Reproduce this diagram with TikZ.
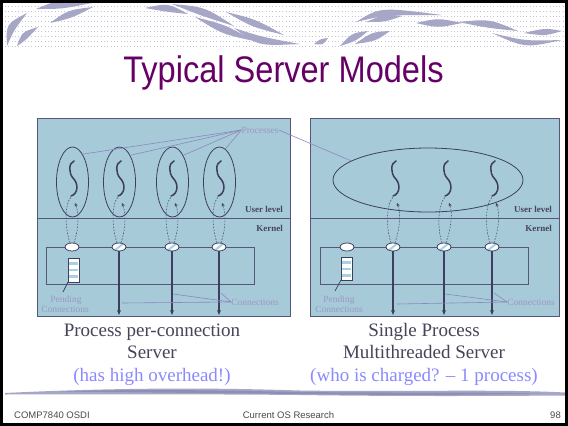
\documentclass[tikz,border=0pt]{standalone}
\usepackage{fontspec}
\setmainfont{Liberation Serif}
\newfontfamily\sansf{Liberation Sans}
\usetikzlibrary{shapes.geometric,arrows.meta}
\definecolor{panelfill}{HTML}{A7CAD8}
\definecolor{panelline}{HTML}{56567C}
\definecolor{threadcol}{HTML}{3E3E60}
\definecolor{lblcol}{HTML}{9A98C4}
\definecolor{leadcol}{HTML}{8C88BC}
\definecolor{levelcol}{HTML}{45455E}
\definecolor{titlecol}{HTML}{660066}
\definecolor{capcol}{HTML}{45455A}
\definecolor{subcol}{HTML}{8A8AFF}
\definecolor{swoosh}{HTML}{A6A6C6}
\definecolor{swooshdark}{HTML}{8E8EB4}
\definecolor{dotcol}{HTML}{C4C4D4}
\definecolor{hatchcol}{HTML}{A9D0E0}
\definecolor{footcol}{HTML}{4A4A4A}
\tikzset{
  panel/.style={fill=panelfill, draw=panelline, line width=0.8pt},
  procell/.style={ellipse, draw=threadcol, line width=0.8pt, inner sep=0pt},
  sock/.style={ellipse, draw=threadcol, fill=white, line width=0.8pt, minimum width=14pt, minimum height=8pt, inner sep=0pt},
  hatch/.style={path picture={\draw[hatchcol, line width=2pt] ([xshift=2pt]path picture bounding box.south west) -- ([xshift=-2pt]path picture bounding box.north east);}},
  thread/.style={draw=threadcol, line width=1.5pt, line cap=round},
  loopline/.style={draw=threadcol, line width=0.5pt, dash pattern=on 1.6pt off 1.4pt},
  looparrow/.style={loopline, -{Stealth[length=3.5pt,width=3pt]}},
  conn/.style={draw=threadcol, line width=1.3pt, -{Stealth[length=5pt,width=4pt]}},
  lead/.style={draw=leadcol, line width=0.6pt},
  lbl/.style={text=lblcol, font=\fontsize{9.5}{11}\selectfont, inner sep=0pt},
  lvl/.style={text=levelcol, font=\bfseries\fontsize{9}{10}\selectfont, inner sep=0pt},
  captxt/.style={text=capcol, font=\fontsize{19}{22}\selectfont, inner sep=0pt, anchor=base},
  subcap/.style={text=subcol, font=\fontsize{19}{22}\selectfont, inner sep=0pt, anchor=base},
  foot/.style={text=footcol, font=\sansf\fontsize{9.5}{11}\selectfont, inner sep=0pt},
  kbox/.style={draw=panelline, line width=1pt},
  queue/.style={draw=threadcol, fill=white, line width=0.7pt},
}
\newcommand\squig[1]{\draw[thread] (#1+2,161) .. controls (#1-4,163) and (#1-3,174) .. (#1+1,178) .. controls (#1+7,184) and (#1+6,194) .. (#1-1,196);}
\begin{document}
\begin{tikzpicture}[x=1pt,y=-1pt]
\useasboundingbox (0,0) rectangle (568,426);
\fill[white] (0,0) rectangle (568,426);
% dotted band
\foreach \r in {6,11,...,46} \draw[dotcol, line width=0.9pt, dash pattern=on 0.9pt off 2.4pt] (5,\r) -- (564,\r);
% swooshes
\foreach \ax/\ay/\cx/\cy/\bx/\by/\dx/\dy in {
 7/46/6/24/27/13/14/30, 17/46/22/32/38/27/26/40, 36/9/60/-1/92/3/62/9, 50/23/68/10/93/7/72/18,
 145/8/168/3/188/14/168/12, 172/4/205/7/234/26/202/16, 195/17/226/25/254/41/222/34,
 226/12/255/19/284/35/252/27, 234/28/262/37/300/44/258/46,
 314/44/320/39/328/38/323/45, 340/46/352/33/368/31/356/41, 355/44/372/32/390/31/376/41,
 356/22/380/7/442/15/385/15, 366/22/385/14/402/16/385/22, 416/23/438/18/462/23/438/28,
 458/22/490/19/518/31/488/28, 492/33/525/48/562/40/525/41, 524/33/545/28/562/31/545/36}
 \fill[swoosh] (\ax,\ay) .. controls (\cx,\cy) .. (\bx,\by) .. controls (\dx,\dy) .. cycle;
% title
\node[text=titlecol, font=\sansf\fontsize{37}{40}\selectfont, inner sep=0pt, anchor=base] (title) at (283.5,82) {\scalebox{0.88}[1]{Typical Server Models}};

% ===== left panel =====
\draw[panel] (37,118) rectangle (290,316);
\draw[draw=panelline, line width=0.8pt] (37,218) -- (290,218);
\node[lvl, anchor=base east] (ul1) at (283,212) {User level};
\node[lvl, anchor=base east] (kn1) at (283,231) {Kernel};
\foreach \i/\x in {1/72,2/119,3/172,4/219}{
  \node[procell, minimum width=32pt, minimum height=70pt] (p\i) at (\x+0.5,182) {};
  \squig{\x}
  \coordinate (t\i) at (\x-1,197);
  \coordinate (a\i) at (\x+3,203);
}
\draw[kbox] (46,247) rectangle (254,284);
\node[sock] (s1) at (72,247) {};
\node[sock,hatch] (s2) at (119,247) {};
\node[sock,hatch] (s3) at (172,247) {};
\node[sock,hatch] (s4) at (219,247) {};
\foreach \i in {1,2,3,4}{
  \draw[loopline] (s\i.115) .. controls +(-5,-14) and +(-7,8) .. (t\i);
  \draw[looparrow] (s\i.65) .. controls +(5,-14) and +(4,10) .. (a\i);
}
\coordinate (bot) at (0,315);
\foreach \i in {2,3,4} \draw[conn] (s\i.south) -- (s\i |- bot);
% queue
\draw[queue] (68,258) rectangle (79,282);
\foreach \y in {262,268.5,275} \fill[hatchcol] (68.6,\y) rectangle (78.4,\y+2.5);
\draw[queue, fill=none] (68,258) rectangle (79,282);
\node[lbl, anchor=base] (pend1) at (66,302) {Pending};
\node[lbl, anchor=base] (pendb1) at (65,312.5) {Connections};
\draw[draw=threadcol, line width=0.7pt] (68,282) -- (63,292);
% labels
\node[lbl] (proc) at (260,130) {Processes};
\draw[lead] (proc.west) -- (p1.70);
\draw[lead] (proc.west) -- (p2.68);
\draw[lead] (proc.west) -- (p3.68);
\draw[lead] (proc.west) -- (p4.80);
\node[lbl] (con1) at (255,302) {Connections};
\coordinate (c1a) at (122,303);
\coordinate (c1b) at (173,294);
\coordinate (c1c) at (221,293);
\draw[lead] (con1.west) -- (c1a);
\draw[lead] (con1.west) -- (c1b);
\draw[lead] (con1.west) -- (c1c);

% ===== right panel =====
\draw[panel] (310,118) rectangle (559,316);
\draw[draw=panelline, line width=0.8pt] (310,218) -- (559,218);
\node[lvl, anchor=base east] (ul2) at (552,212) {User level};
\node[lvl, anchor=base east] (kn2) at (552,231) {Kernel};
\node[procell, minimum width=190pt, minimum height=64pt] (bigp) at (428,180) {};
\foreach \i/\x in {5/394,6/446,7/493}{
  \squig{\x}
  \coordinate (t\i) at (\x-1,197);
  \coordinate (a\i) at (\x+3,203);
}
\draw[kbox] (320,247) rectangle (528,284);
\node[sock] (r1) at (347,247) {};
\node[sock,hatch] (s5) at (393,247) {};
\node[sock,hatch] (s6) at (444,247) {};
\node[sock,hatch] (s7) at (492,247) {};
\foreach \i in {5,6,7}{
  \draw[loopline] (s\i.115) .. controls +(-5,-14) and +(-7,8) .. (t\i);
  \draw[looparrow] (s\i.65) .. controls +(5,-14) and +(4,10) .. (a\i);
  \draw[conn] (s\i.south) -- (s\i |- bot);
}
\draw[queue] (341,257) rectangle (352,280);
\foreach \y in {261,267.5,274} \fill[hatchcol] (341.6,\y) rectangle (351.4,\y+2.5);
\draw[queue, fill=none] (341,257) rectangle (352,280);
\node[lbl, anchor=base] (pend2) at (339,302) {Pending};
\node[lbl, anchor=base] (pendb2) at (339,312.5) {Connections};
\draw[draw=threadcol, line width=0.7pt] (341,280) -- (335,291);
\draw[lead] (proc.east) -- (bigp.166);
\node[lbl] (con2) at (531,302) {Connections};
\coordinate (c2a) at (397,304);
\coordinate (c2b) at (445,294);
\coordinate (c2c) at (494,293);
\draw[lead] (con2.west) -- (c2a);
\draw[lead] (con2.west) -- (c2b);
\draw[lead] (con2.west) -- (c2c);

% captions
\node[captxt] (capl1) at (152,336) {Process per-connection};
\node[captxt] (capl2) at (152,358) {Server};
\node[subcap] (capl3) at (152,381) {(has high overhead!)};
\node[captxt] (capr1) at (424,336) {Single Process};
\node[captxt] (capr2) at (424,358) {Multithreaded Server};
\node[subcap] (capr3) at (424,381) {(who is charged? – 1 process)};

% bottom swoosh
\fill[swoosh] (5,393) .. controls (150,386) and (250,389) .. (300,390.5) .. controls (400,392) and (500,389) .. (565,392.5)
  -- (565,395.5) .. controls (500,396) and (400,396.5) .. (300,395) .. controls (250,394.5) and (150,394) .. (5,394.5) -- cycle;
\fill[swooshdark] (60,391.5) .. controls (150,388.5) and (250,391) .. (300,392) .. controls (400,393) and (480,392) .. (540,393.5)
  .. controls (480,395) and (400,395.5) .. (300,394) .. controls (250,393.5) and (150,392.5) .. (60,391.5) -- cycle;

% footer
\node[foot, anchor=base west] (f1) at (14,418) {COMP7840 OSDI};
\node[foot, anchor=base] (f2) at (288.5,418) {Current OS Research};
\node[foot, anchor=base east] (f3) at (561,418) {98};

% frame
\draw[black, line width=3pt] (1.5,1.5) rectangle (566.5,424.5);
\end{tikzpicture}
\end{document}
